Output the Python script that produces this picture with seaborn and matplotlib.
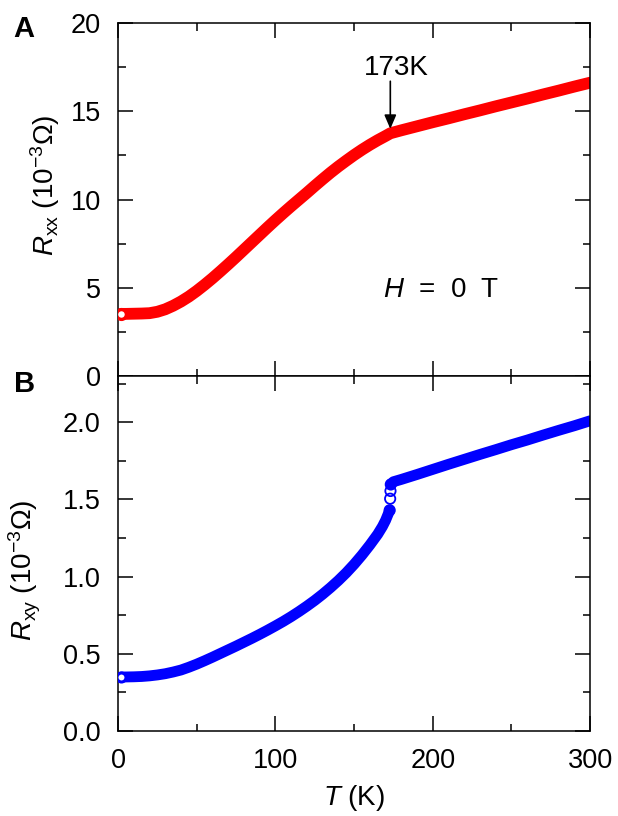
import matplotlib
matplotlib.use("Agg")
import matplotlib.pyplot as plt
import seaborn as sns
import numpy as np
import pandas as pd

# ---------------- data ----------------
T_xx = [2, 5, 10, 15, 20, 25, 30, 35, 40, 45, 50, 55, 60, 65, 70, 75, 80, 85, 90, 95,
        100, 105, 110, 115, 120, 125, 130, 135, 140, 145, 150, 155, 160, 165, 170, 173,
        175, 180, 190, 200, 210, 220, 230, 240, 250, 260, 270, 280, 290, 300]
R_xx = [3.52, 3.52, 3.53, 3.54, 3.56, 3.64, 3.78, 3.98, 4.22, 4.50, 4.82, 5.17, 5.54, 5.93,
        6.33, 6.74, 7.16, 7.58, 8.00, 8.42, 8.83, 9.23, 9.62, 10.00, 10.38, 10.77, 11.15,
        11.52, 11.87, 12.20, 12.52, 12.82, 13.10, 13.36, 13.60, 13.75, 13.80, 13.92, 14.15,
        14.38, 14.60, 14.83, 15.05, 15.28, 15.50, 15.72, 15.95, 16.17, 16.40, 16.62]

T_xy_low = [2, 5, 10, 15, 20, 25, 30, 35, 40, 45, 50, 55, 60, 65, 70, 75, 80, 85, 90, 95,
            100, 105, 110, 115, 120, 125, 130, 135, 140, 145, 150, 155, 160, 165, 168,
            170, 171, 172, 172.5]
R_xy_low = [0.350, 0.350, 0.351, 0.353, 0.357, 0.363, 0.371, 0.382, 0.395, 0.413, 0.433,
            0.455, 0.478, 0.502, 0.526, 0.550, 0.575, 0.600, 0.626, 0.653, 0.681, 0.710,
            0.741, 0.774, 0.809, 0.846, 0.886, 0.929, 0.975, 1.025, 1.080, 1.140, 1.205,
            1.275, 1.325, 1.365, 1.390, 1.415, 1.430]
T_xy_jump = [172.6, 172.9, 173.1, 173.3]
R_xy_jump = [1.430, 1.505, 1.555, 1.597]
T_xy_high = [173.3, 175, 180, 190, 200, 210, 220, 230, 240, 250, 260, 270, 280, 290, 300]
R_xy_high = [1.600, 1.615, 1.630, 1.662, 1.695, 1.728, 1.760, 1.792, 1.823, 1.855, 1.885,
             1.917, 1.948, 1.978, 2.010]

x_ticks = [0, 100, 200, 300]
ya_ticks = [0, 5, 10, 15, 20]
yb_ticks = [0.0, 0.5, 1.0, 1.5, 2.0]
yb_ticklabels = ["0.0", "0.5", "1.0", "1.5", "2.0"]
transition_T = 173

# ---------------- style ----------------
sns.set_theme(style="ticks")
plt.rcParams["font.family"] = ["Liberation Sans", "DejaVu Sans"]
plt.rcParams["mathtext.fontset"] = "custom"
plt.rcParams["mathtext.rm"] = "Liberation Sans"
plt.rcParams["mathtext.it"] = "Liberation Sans:italic"
plt.rcParams["mathtext.bf"] = "Liberation Sans:bold"
plt.rcParams["axes.linewidth"] = 1.1
plt.rcParams["text.color"] = "black"
plt.rcParams["axes.labelcolor"] = "black"
plt.rcParams["xtick.color"] = "black"
plt.rcParams["ytick.color"] = "black"
plt.rcParams["axes.edgecolor"] = "black"

FS_TICK = 19.5
FS = 20
RED = "#ff0000"
BLUE = "#0000ff"

fig = plt.figure(figsize=(6.18, 8.16), dpi=100)
axA = fig.add_axes([0.191, 0.5392, 0.764, 0.4326])
axB = fig.add_axes([0.191, 0.1042, 0.764, 0.4350])

dfA = pd.DataFrame({"T": T_xx, "R": R_xx})
sns.lineplot(data=dfA, x="T", y="R", ax=axA, color=RED, lw=8.5, sort=False,
             solid_capstyle="round", solid_joinstyle="round")
axA.scatter(T_xx[0], R_xx[0], s=50, facecolor="white", edgecolor=RED, linewidth=2.4, zorder=5)

dfB1 = pd.DataFrame({"T": T_xy_low, "R": R_xy_low})
dfB2 = pd.DataFrame({"T": T_xy_high, "R": R_xy_high})
dfBj = pd.DataFrame({"T": T_xy_jump, "R": R_xy_jump})
sns.lineplot(data=dfB1, x="T", y="R", ax=axB, color=BLUE, lw=7.8, sort=False,
             solid_capstyle="round", solid_joinstyle="round")
sns.lineplot(data=dfB2, x="T", y="R", ax=axB, color=BLUE, lw=7.8, sort=False,
             solid_capstyle="round", solid_joinstyle="round")
sns.scatterplot(data=dfBj, x="T", y="R", ax=axB, s=55, facecolor="none",
                edgecolor=BLUE, linewidth=1.3, zorder=5)
axB.scatter(T_xy_low[0], R_xy_low[0], s=42, facecolor="white", edgecolor=BLUE,
            linewidth=2.2, zorder=5)

for ax in (axA, axB):
    ax.set_xlim(0, 300)
    ax.set_xticks(x_ticks)
    ax.xaxis.set_minor_locator(matplotlib.ticker.MultipleLocator(50))
    ax.tick_params(which="major", direction="in", length=10.8, width=1.1,
                   top=True, right=True, labelsize=FS_TICK, pad=12.5, colors="black")
    ax.tick_params(which="minor", direction="in", length=5.4, width=1.1,
                   top=True, right=True, colors="black")
    for s in ax.spines.values():
        s.set_visible(True)
        s.set_linewidth(1.1)
        s.set_color("black")

axA.set_ylim(0, 20)
axA.set_yticks(ya_ticks)
axA.yaxis.set_minor_locator(matplotlib.ticker.MultipleLocator(2.5))
axA.set_xticklabels([])
axA.set_xlabel("")
axA.set_ylabel(r"$R_{\rm xx}$ (10$^{-3}$Ω)", fontsize=FS)
axA.yaxis.set_label_coords(-0.119, 0.541)

axB.set_ylim(0, 2.3)
axB.set_yticks(yb_ticks)
axB.set_yticklabels(yb_ticklabels)
axB.yaxis.set_minor_locator(matplotlib.ticker.MultipleLocator(0.25))
axB.set_xlabel(r"$T$ (K)", fontsize=FS, labelpad=6)
axB.set_ylabel(r"$R_{\rm xy}$ (10$^{-3}$Ω)", fontsize=FS)
axB.yaxis.set_label_coords(-0.159, 0.4535)

# annotations
axA.annotate("", xy=(transition_T, 14.0), xytext=(transition_T, 16.7),
             arrowprops=dict(arrowstyle="-|>,head_length=0.7,head_width=0.3",
                             color="black", lw=1.2, shrinkA=0, shrinkB=0))
axA.text(transition_T + 3.5, 17.45, f"{transition_T}K", ha="center", va="center", fontsize=FS)
axA.text(205, 4.87, r"$H$  =  0  T", ha="center", va="center", fontsize=FS)

fig.text(0.022, 0.964, "A", fontsize=21, fontweight="bold", ha="left", va="center")
fig.text(0.022, 0.529, "B", fontsize=21, fontweight="bold", ha="left", va="center")

fig.savefig("out.png", dpi=100)
